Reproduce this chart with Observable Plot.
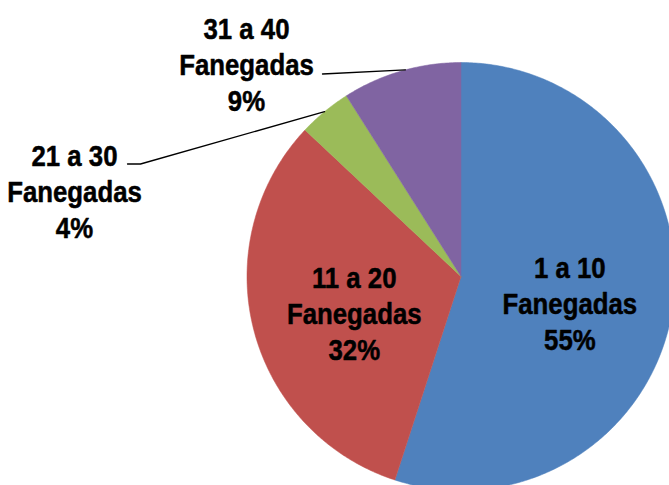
<!DOCTYPE html>
<html><head><meta charset="utf-8">
<script src="https://cdn.jsdelivr.net/npm/d3@7"></script>
<script src="https://cdn.jsdelivr.net/npm/@observablehq/plot@0.6"></script>
<style>
body{margin:0;background:#fff}
#chart{width:669px;height:485px;overflow:hidden;position:relative}
#chart svg{display:block}
</style>
</head><body><div id="chart"></div>
<script>
// ---- data ----
const ranges = ["1 a 10", "11 a 20", "21 a 30", "31 a 40"];
const unit = "Fanegadas";
const shares = [55, 32, 4, 9];
const colors = ["#4F81BD", "#C0504D", "#9BBB59", "#8064A2"];
const outside = ["21 a 30", "31 a 40"];

// ---- layout ----
const W = 669, H = 485, cx = 460.5, cy = 276, R = 214;
const font = "'Liberation Sans',Arial,sans-serif";
const fontSize = 30;
const narrow = 0.86; // horizontal condensation to mimic a narrow bold face
const outsideAnchor = { "31 a 40": [246, 62.5], "21 a 30": [74, 189.5] };

const arcs = d3.pie().sort(null).value(d => d)(shares);
const polar = (a, r) => [cx + r * Math.sin(a), cy - r * Math.cos(a)];

const slicePts = [];
arcs.forEach((p, i) => {
  const n = Math.max(2, Math.ceil((p.endAngle - p.startAngle) / 0.01));
  slicePts.push({ cat: ranges[i], x: cx, y: cy });
  for (let k = 0; k <= n; k++) {
    const a = p.startAngle + (p.endAngle - p.startAngle) * k / n;
    const [x, y] = polar(a, R);
    slicePts.push({ cat: ranges[i], x, y });
  }
  slicePts.push({ cat: ranges[i], x: cx, y: cy });
});

const labels = [];
const leaders = [];
arcs.forEach((p, i) => {
  const mid = (p.startAngle + p.endAngle) / 2;
  const text = `${ranges[i]}\n${unit}\n${shares[i]}%`;
  if (outside.includes(ranges[i])) {
    const [lx, ly] = outsideAnchor[ranges[i]];
    labels.push({ x: lx, y: ly, text });
    const [ex, ey] = polar(mid + (ranges[i] === "31 a 40" ? 0.02 : 0), R);
    if (ranges[i] === "31 a 40") {
      leaders.push({ cat: ranges[i], x: lx + 76, y: ly + 11 });
    } else {
      leaders.push({ cat: ranges[i], x: lx + 53, y: ly - 26 });
      leaders.push({ cat: ranges[i], x: lx + 66, y: ly - 26 });
    }
    leaders.push({ cat: ranges[i], x: ex, y: ey });
  } else {
    const [lx, ly] = polar(mid, R * 0.515);
    labels.push({ x: lx, y: ly + 9, text });
  }
});

const chart = Plot.plot({
  width: W, height: H,
  margin: 0,
  x: { domain: [0, W], range: [0, W], axis: null },
  y: { domain: [0, H], range: [0, H], axis: null },
  color: { domain: ranges, range: colors },
  style: { background: "white", overflow: "hidden" },
  marks: [
    Plot.line(slicePts, { x: "x", y: "y", z: "cat", fill: "cat", stroke: "cat", strokeWidth: 0.5, curve: "linear" }),
    Plot.line(leaders, { x: "x", y: "y", z: "cat", stroke: "black", strokeWidth: 1.3 }),
    Plot.text(labels, { x: "x", y: "y", text: "text", fontSize, fontWeight: "bold", fontFamily: font, lineHeight: 1.2, fill: "black", stroke: "black", strokeWidth: 0.5 })
  ]
});
d3.select(chart).selectAll("g[aria-label=text] text").each(function () {
  const t = this.getAttribute("transform") || "";
  this.setAttribute("transform", `${t} scale(${narrow},1)`);
});
document.getElementById("chart").appendChild(chart);
</script>
</body></html>
